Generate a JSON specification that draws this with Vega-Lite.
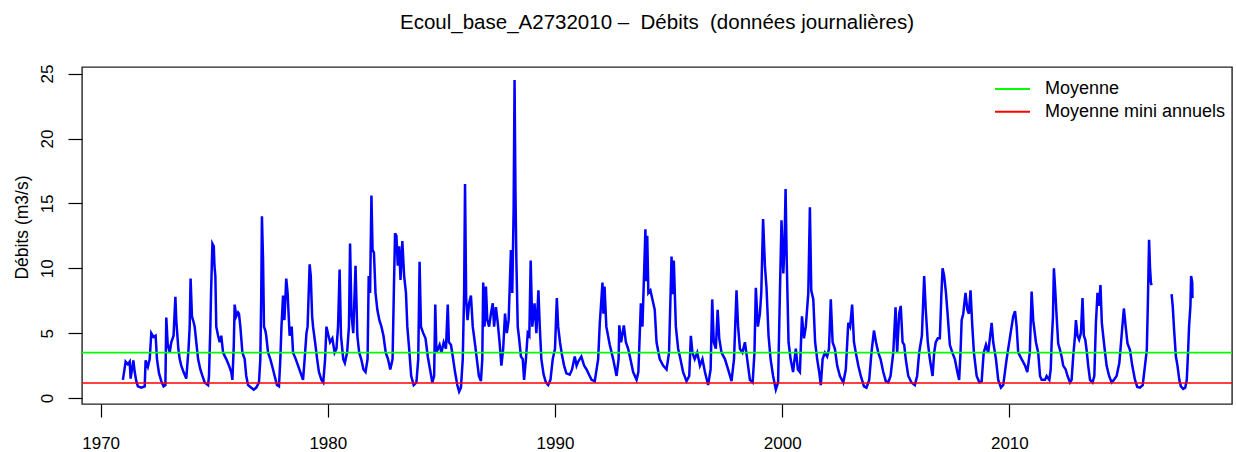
{
"$schema": "https://vega.github.io/schema/vega-lite/v6.json",
"width": 1150, "height": 337,
"autosize": {"type": "none"},
"padding": {"left": 82, "top": 67, "right": 4, "bottom": 48},
"background": "white",
"title": {"text": "Ecoul_base_A2732010 –\u00a0 Débits\u00a0 (données journalières)", "font": "Liberation Sans", "fontSize": 20.5, "fontWeight": "normal", "color": "#000", "anchor": "middle", "frame": "group", "baseline": "alphabetic", "offset": 14.5},
"config": {
  "view": {"stroke": "#222", "strokeWidth": 1.4},
  "axis": {"grid": false, "domain": false, "tickColor": "#000", "tickWidth": 1.2, "labelFont": "Liberation Sans", "labelFontSize": 17, "labelColor": "#000", "titleFont": "Liberation Sans", "titleFontSize": 17.5, "titleFontWeight": "normal", "titleColor": "#000"}
},
"layer": [
{
"data": {"values": [
{"t":1970.98,"q":1.4,"s":1},{"t":1971.10,"q":2.8,"s":1},{"t":1971.20,"q":2.6,"s":1},{"t":1971.28,"q":2.8,"s":1},{"t":1971.32,"q":1.5,"s":1},{"t":1971.44,"q":2.9,"s":1},{"t":1971.50,"q":2.0,"s":1},{"t":1971.57,"q":1.3,"s":1},{"t":1971.64,"q":0.9,"s":1},{"t":1971.79,"q":0.8,"s":1},{"t":1971.94,"q":0.9,"s":1},{"t":1971.98,"q":2.9,"s":1},{"t":1972.08,"q":2.4,"s":1},{"t":1972.16,"q":3.0,"s":1},{"t":1972.23,"q":5.0,"s":1},{"t":1972.33,"q":4.7,"s":1},{"t":1972.42,"q":4.8,"s":1},{"t":1972.48,"q":3.0,"s":1},{"t":1972.57,"q":1.9,"s":1},{"t":1972.67,"q":1.3,"s":1},{"t":1972.77,"q":0.9,"s":1},{"t":1972.85,"q":1.0,"s":1},{"t":1972.89,"q":6.2,"s":1},{"t":1972.95,"q":4.2,"s":1},{"t":1973.04,"q":3.5,"s":1},{"t":1973.11,"q":4.3,"s":1},{"t":1973.21,"q":4.8,"s":1},{"t":1973.29,"q":7.8,"s":1},{"t":1973.33,"q":6.0,"s":1},{"t":1973.42,"q":3.8,"s":1},{"t":1973.48,"q":3.0,"s":1},{"t":1973.55,"q":2.5,"s":1},{"t":1973.65,"q":2.0,"s":1},{"t":1973.77,"q":1.5,"s":1},{"t":1973.87,"q":3.8,"s":1},{"t":1973.92,"q":5.5,"s":1},{"t":1973.96,"q":9.2,"s":1},{"t":1974.02,"q":6.3,"s":1},{"t":1974.10,"q":5.8,"s":1},{"t":1974.14,"q":5.5,"s":1},{"t":1974.21,"q":4.3,"s":1},{"t":1974.29,"q":3.0,"s":1},{"t":1974.39,"q":2.2,"s":1},{"t":1974.48,"q":1.7,"s":1},{"t":1974.58,"q":1.2,"s":1},{"t":1974.73,"q":1.0,"s":1},{"t":1974.77,"q":1.7,"s":1},{"t":1974.83,"q":5.5,"s":1},{"t":1974.86,"q":8.1,"s":1},{"t":1974.92,"q":11.9,"s":1},{"t":1974.98,"q":11.7,"s":1},{"t":1975.01,"q":10.2,"s":1},{"t":1975.05,"q":9.4,"s":1},{"t":1975.09,"q":5.5,"s":1},{"t":1975.17,"q":4.8,"s":1},{"t":1975.24,"q":4.3,"s":1},{"t":1975.31,"q":4.8,"s":1},{"t":1975.39,"q":3.5,"s":1},{"t":1975.53,"q":3.0,"s":1},{"t":1975.65,"q":2.5,"s":1},{"t":1975.75,"q":2.0,"s":1},{"t":1975.80,"q":1.4,"s":1},{"t":1975.86,"q":4.0,"s":1},{"t":1975.90,"q":7.2,"s":1},{"t":1975.97,"q":6.3,"s":1},{"t":1976.05,"q":6.6,"s":1},{"t":1976.09,"q":6.5,"s":1},{"t":1976.15,"q":5.5,"s":1},{"t":1976.24,"q":3.5,"s":1},{"t":1976.34,"q":3.0,"s":1},{"t":1976.41,"q":1.7,"s":1},{"t":1976.49,"q":1.0,"s":1},{"t":1976.63,"q":0.8,"s":1},{"t":1976.74,"q":0.65,"s":1},{"t":1976.85,"q":0.8,"s":1},{"t":1976.97,"q":1.2,"s":1},{"t":1977.03,"q":3.0,"s":1},{"t":1977.07,"q":8.0,"s":1},{"t":1977.10,"q":14.0,"s":1},{"t":1977.15,"q":10.6,"s":1},{"t":1977.19,"q":5.5,"s":1},{"t":1977.25,"q":5.2,"s":1},{"t":1977.29,"q":4.8,"s":1},{"t":1977.37,"q":3.5,"s":1},{"t":1977.47,"q":3.0,"s":1},{"t":1977.59,"q":2.2,"s":1},{"t":1977.66,"q":1.7,"s":1},{"t":1977.76,"q":1.0,"s":1},{"t":1977.85,"q":0.9,"s":1},{"t":1977.91,"q":3.0,"s":1},{"t":1977.96,"q":5.5,"s":1},{"t":1978.03,"q":7.9,"s":1},{"t":1978.09,"q":6.0,"s":1},{"t":1978.17,"q":9.2,"s":1},{"t":1978.23,"q":8.1,"s":1},{"t":1978.32,"q":4.8,"s":1},{"t":1978.41,"q":5.5,"s":1},{"t":1978.47,"q":3.5,"s":1},{"t":1978.59,"q":3.0,"s":1},{"t":1978.69,"q":2.5,"s":1},{"t":1978.79,"q":2.0,"s":1},{"t":1978.91,"q":1.4,"s":1},{"t":1978.98,"q":3.0,"s":1},{"t":1979.06,"q":5.0,"s":1},{"t":1979.11,"q":5.5,"s":1},{"t":1979.20,"q":10.3,"s":1},{"t":1979.25,"q":9.4,"s":1},{"t":1979.31,"q":6.3,"s":1},{"t":1979.35,"q":5.5,"s":1},{"t":1979.44,"q":4.3,"s":1},{"t":1979.53,"q":3.0,"s":1},{"t":1979.61,"q":2.0,"s":1},{"t":1979.72,"q":1.4,"s":1},{"t":1979.80,"q":1.2,"s":1},{"t":1979.88,"q":3.0,"s":1},{"t":1979.94,"q":5.5,"s":1},
{"t":1980.03,"q":4.8,"s":1},{"t":1980.10,"q":4.3,"s":1},{"t":1980.20,"q":4.6,"s":1},{"t":1980.30,"q":3.5,"s":1},{"t":1980.38,"q":3.8,"s":1},{"t":1980.45,"q":5.5,"s":1},{"t":1980.52,"q":9.9,"s":1},{"t":1980.58,"q":4.8,"s":1},{"t":1980.68,"q":3.0,"s":1},{"t":1980.75,"q":2.7,"s":1},{"t":1980.85,"q":3.5,"s":1},{"t":1980.93,"q":5.5,"s":1},{"t":1980.98,"q":11.9,"s":1},{"t":1981.04,"q":6.5,"s":1},{"t":1981.12,"q":5.0,"s":1},{"t":1981.22,"q":10.2,"s":1},{"t":1981.30,"q":4.8,"s":1},{"t":1981.38,"q":3.5,"s":1},{"t":1981.47,"q":3.0,"s":1},{"t":1981.57,"q":2.2,"s":1},{"t":1981.66,"q":2.0,"s":1},{"t":1981.75,"q":3.0,"s":1},{"t":1981.80,"q":9.4,"s":1},{"t":1981.86,"q":8.1,"s":1},{"t":1981.92,"q":15.6,"s":1},{"t":1981.97,"q":11.4,"s":1},{"t":1982.03,"q":11.2,"s":1},{"t":1982.10,"q":8.1,"s":1},{"t":1982.18,"q":6.8,"s":1},{"t":1982.27,"q":6.0,"s":1},{"t":1982.36,"q":5.5,"s":1},{"t":1982.45,"q":4.8,"s":1},{"t":1982.55,"q":3.5,"s":1},{"t":1982.65,"q":3.0,"s":1},{"t":1982.75,"q":2.2,"s":1},{"t":1982.85,"q":3.0,"s":1},{"t":1982.92,"q":9.4,"s":1},{"t":1982.96,"q":12.7,"s":1},{"t":1983.02,"q":12.5,"s":1},{"t":1983.08,"q":10.2,"s":1},{"t":1983.14,"q":11.7,"s":1},{"t":1983.20,"q":9.1,"s":1},{"t":1983.28,"q":12.1,"s":1},{"t":1983.36,"q":9.4,"s":1},{"t":1983.44,"q":8.1,"s":1},{"t":1983.50,"q":5.5,"s":1},{"t":1983.58,"q":3.8,"s":1},{"t":1983.67,"q":1.7,"s":1},{"t":1983.78,"q":1.0,"s":1},{"t":1983.90,"q":1.2,"s":1},{"t":1983.98,"q":3.0,"s":1},{"t":1984.04,"q":10.5,"s":1},{"t":1984.10,"q":5.5,"s":1},{"t":1984.20,"q":5.0,"s":1},{"t":1984.30,"q":4.6,"s":1},{"t":1984.40,"q":3.2,"s":1},{"t":1984.50,"q":2.2,"s":1},{"t":1984.60,"q":1.2,"s":1},{"t":1984.68,"q":1.7,"s":1},{"t":1984.73,"q":7.2,"s":1},{"t":1984.78,"q":3.5,"s":1},{"t":1984.85,"q":3.8,"s":1},{"t":1984.92,"q":4.1,"s":1},{"t":1985.00,"q":3.5,"s":1},{"t":1985.10,"q":4.3,"s":1},{"t":1985.20,"q":3.8,"s":1},{"t":1985.28,"q":7.2,"s":1},{"t":1985.33,"q":4.3,"s":1},{"t":1985.42,"q":4.1,"s":1},{"t":1985.50,"q":3.2,"s":1},{"t":1985.60,"q":2.0,"s":1},{"t":1985.70,"q":1.0,"s":1},{"t":1985.78,"q":0.5,"s":1},{"t":1985.86,"q":0.8,"s":1},{"t":1985.94,"q":3.0,"s":1},{"t":1986.00,"q":8.1,"s":1},{"t":1986.04,"q":16.5,"s":1},{"t":1986.09,"q":7.6,"s":1},{"t":1986.15,"q":6.0,"s":1},{"t":1986.22,"q":7.3,"s":1},{"t":1986.30,"q":7.9,"s":1},{"t":1986.38,"q":5.5,"s":1},{"t":1986.47,"q":4.3,"s":1},{"t":1986.56,"q":3.0,"s":1},{"t":1986.65,"q":1.7,"s":1},{"t":1986.74,"q":1.3,"s":1},{"t":1986.80,"q":3.0,"s":1},{"t":1986.84,"q":8.9,"s":1},{"t":1986.90,"q":5.5,"s":1},{"t":1986.96,"q":8.6,"s":1},{"t":1987.02,"q":6.0,"s":1},{"t":1987.10,"q":5.5,"s":1},{"t":1987.18,"q":6.5,"s":1},{"t":1987.26,"q":7.3,"s":1},{"t":1987.32,"q":5.5,"s":1},{"t":1987.40,"q":7.0,"s":1},{"t":1987.48,"q":5.8,"s":1},{"t":1987.56,"q":4.3,"s":1},{"t":1987.64,"q":2.5,"s":1},{"t":1987.72,"q":3.8,"s":1},{"t":1987.80,"q":6.5,"s":1},{"t":1987.88,"q":5.0,"s":1},{"t":1987.96,"q":6.0,"s":1},{"t":1988.06,"q":11.4,"s":1},{"t":1988.12,"q":8.1,"s":1},{"t":1988.18,"q":14.6,"s":1},{"t":1988.22,"q":24.5,"s":1},{"t":1988.26,"q":15.8,"s":1},{"t":1988.30,"q":10.6,"s":1},{"t":1988.36,"q":5.5,"s":1},{"t":1988.42,"q":4.6,"s":1},{"t":1988.50,"q":3.2,"s":1},{"t":1988.58,"q":3.0,"s":1},{"t":1988.64,"q":1.4,"s":1},{"t":1988.72,"q":3.0,"s":1},{"t":1988.80,"q":5.0,"s":1},{"t":1988.87,"q":4.8,"s":1},{"t":1988.93,"q":10.6,"s":1},{"t":1989.00,"q":5.5,"s":1},{"t":1989.10,"q":7.3,"s":1},{"t":1989.18,"q":5.0,"s":1},{"t":1989.27,"q":8.3,"s":1},{"t":1989.33,"q":5.5,"s":1},{"t":1989.40,"q":3.0,"s":1},{"t":1989.50,"q":1.8,"s":1},{"t":1989.60,"q":1.2,"s":1},{"t":1989.70,"q":1.0,"s":1},{"t":1989.80,"q":1.4,"s":1},{"t":1989.90,"q":3.0,"s":1},{"t":1990.00,"q":3.8,"s":1},{"t":1990.08,"q":7.7,"s":1},{"t":1990.14,"q":5.5,"s":1},{"t":1990.22,"q":4.3,"s":1},{"t":1990.30,"q":3.4,"s":1},{"t":1990.40,"q":2.5,"s":1},{"t":1990.50,"q":1.9,"s":1},
{"t":1990.65,"q":1.8,"s":1},{"t":1990.75,"q":2.2,"s":1},{"t":1990.87,"q":3.2,"s":1},{"t":1990.95,"q":2.5,"s":1},{"t":1991.02,"q":2.8,"s":1},{"t":1991.16,"q":3.2,"s":1},{"t":1991.28,"q":2.5,"s":1},{"t":1991.39,"q":2.2,"s":1},{"t":1991.50,"q":1.8,"s":1},{"t":1991.61,"q":1.4,"s":1},{"t":1991.75,"q":1.3,"s":1},{"t":1991.90,"q":3.0,"s":1},{"t":1991.97,"q":5.7,"s":1},{"t":1992.09,"q":8.9,"s":1},{"t":1992.13,"q":6.5,"s":1},{"t":1992.18,"q":8.6,"s":1},{"t":1992.26,"q":5.5,"s":1},{"t":1992.41,"q":4.1,"s":1},{"t":1992.56,"q":3.0,"s":1},{"t":1992.71,"q":1.7,"s":1},{"t":1992.80,"q":3.0,"s":1},{"t":1992.83,"q":5.6,"s":1},{"t":1992.91,"q":4.3,"s":1},{"t":1993.03,"q":5.6,"s":1},{"t":1993.12,"q":4.3,"s":1},{"t":1993.22,"q":3.8,"s":1},{"t":1993.32,"q":3.0,"s":1},{"t":1993.44,"q":2.0,"s":1},{"t":1993.59,"q":1.4,"s":1},{"t":1993.67,"q":2.0,"s":1},{"t":1993.78,"q":7.3,"s":1},{"t":1993.85,"q":5.5,"s":1},{"t":1993.98,"q":13.0,"s":1},{"t":1994.02,"q":9.0,"s":1},{"t":1994.06,"q":12.5,"s":1},{"t":1994.11,"q":8.1,"s":1},{"t":1994.20,"q":8.3,"s":1},{"t":1994.29,"q":7.6,"s":1},{"t":1994.39,"q":6.8,"s":1},{"t":1994.47,"q":4.3,"s":1},{"t":1994.61,"q":3.0,"s":1},{"t":1994.76,"q":2.5,"s":1},{"t":1994.91,"q":2.2,"s":1},{"t":1995.02,"q":3.5,"s":1},{"t":1995.13,"q":10.9,"s":1},{"t":1995.18,"q":8.0,"s":1},{"t":1995.23,"q":10.6,"s":1},{"t":1995.32,"q":5.5,"s":1},{"t":1995.42,"q":3.8,"s":1},{"t":1995.52,"q":3.0,"s":1},{"t":1995.64,"q":2.0,"s":1},{"t":1995.79,"q":1.3,"s":1},{"t":1995.91,"q":1.7,"s":1},{"t":1995.98,"q":4.8,"s":1},{"t":1996.05,"q":3.5,"s":1},{"t":1996.15,"q":3.0,"s":1},{"t":1996.26,"q":3.5,"s":1},{"t":1996.38,"q":2.5,"s":1},{"t":1996.49,"q":3.0,"s":1},{"t":1996.60,"q":2.0,"s":1},{"t":1996.74,"q":1.0,"s":1},{"t":1996.85,"q":2.2,"s":1},{"t":1996.92,"q":7.6,"s":1},{"t":1996.99,"q":4.3,"s":1},{"t":1997.08,"q":3.8,"s":1},{"t":1997.16,"q":6.8,"s":1},{"t":1997.23,"q":4.6,"s":1},{"t":1997.33,"q":3.5,"s":1},{"t":1997.48,"q":3.0,"s":1},{"t":1997.62,"q":2.2,"s":1},{"t":1997.77,"q":1.3,"s":1},{"t":1997.88,"q":3.0,"s":1},{"t":1997.99,"q":8.3,"s":1},{"t":1998.06,"q":5.5,"s":1},{"t":1998.14,"q":3.8,"s":1},{"t":1998.25,"q":3.5,"s":1},{"t":1998.36,"q":4.3,"s":1},{"t":1998.46,"q":3.0,"s":1},{"t":1998.58,"q":1.4,"s":1},{"t":1998.70,"q":1.2,"s":1},{"t":1998.78,"q":3.5,"s":1},{"t":1998.84,"q":8.5,"s":1},{"t":1998.93,"q":5.5,"s":1},{"t":1999.02,"q":6.5,"s":1},{"t":1999.08,"q":8.1,"s":1},{"t":1999.16,"q":13.8,"s":1},{"t":1999.24,"q":10.2,"s":1},{"t":1999.31,"q":8.5,"s":1},{"t":1999.40,"q":4.8,"s":1},{"t":1999.49,"q":3.0,"s":1},{"t":1999.60,"q":1.7,"s":1},{"t":1999.72,"q":0.65,"s":1},{"t":1999.82,"q":1.2,"s":1},{"t":1999.90,"q":8.1,"s":1},{"t":1999.97,"q":13.7,"s":1},{"t":2000.05,"q":9.6,"s":1},{"t":2000.10,"q":11.7,"s":1},{"t":2000.15,"q":16.1,"s":1},{"t":2000.20,"q":10.6,"s":1},{"t":2000.28,"q":4.3,"s":1},{"t":2000.37,"q":3.0,"s":1},{"t":2000.48,"q":2.0,"s":1},{"t":2000.60,"q":3.8,"s":1},{"t":2000.69,"q":2.2,"s":1},{"t":2000.78,"q":2.0,"s":1},{"t":2000.87,"q":6.3,"s":1},{"t":2000.96,"q":4.6,"s":1},{"t":2001.04,"q":5.5,"s":1},
{"t":2001.15,"q":8.1,"s":1},{"t":2001.22,"q":14.7,"s":1},{"t":2001.28,"q":8.3,"s":1},{"t":2001.37,"q":7.6,"s":1},{"t":2001.45,"q":4.3,"s":1},{"t":2001.54,"q":3.0,"s":1},{"t":2001.63,"q":2.0,"s":1},{"t":2001.70,"q":1.0,"s":1},{"t":2001.78,"q":3.0,"s":1},{"t":2001.88,"q":3.5,"s":1},{"t":2001.98,"q":3.2,"s":1},{"t":2002.06,"q":3.8,"s":1},{"t":2002.14,"q":7.6,"s":1},{"t":2002.22,"q":4.3,"s":1},{"t":2002.32,"q":3.8,"s":1},{"t":2002.42,"q":2.5,"s":1},{"t":2002.54,"q":1.7,"s":1},{"t":2002.69,"q":1.2,"s":1},{"t":2002.80,"q":2.2,"s":1},{"t":2002.91,"q":5.8,"s":1},{"t":2002.99,"q":5.5,"s":1},{"t":2003.08,"q":7.2,"s":1},{"t":2003.16,"q":4.3,"s":1},{"t":2003.24,"q":3.5,"s":1},{"t":2003.35,"q":2.5,"s":1},{"t":2003.46,"q":1.7,"s":1},{"t":2003.60,"q":0.9,"s":1},{"t":2003.71,"q":0.8,"s":1},{"t":2003.83,"q":1.4,"s":1},{"t":2003.93,"q":3.5,"s":1},{"t":2004.04,"q":5.2,"s":1},{"t":2004.13,"q":4.3,"s":1},{"t":2004.23,"q":3.5,"s":1},{"t":2004.33,"q":3.0,"s":1},{"t":2004.45,"q":2.0,"s":1},{"t":2004.56,"q":1.3,"s":1},{"t":2004.67,"q":1.2,"s":1},{"t":2004.77,"q":1.7,"s":1},{"t":2004.89,"q":3.5,"s":1},{"t":2004.99,"q":7.0,"s":1},{"t":2005.06,"q":3.5,"s":1},{"t":2005.15,"q":6.5,"s":1},{"t":2005.22,"q":7.1,"s":1},{"t":2005.30,"q":4.3,"s":1},{"t":2005.37,"q":4.1,"s":1},{"t":2005.44,"q":3.0,"s":1},{"t":2005.55,"q":1.7,"s":1},{"t":2005.69,"q":1.2,"s":1},{"t":2005.84,"q":1.0,"s":1},{"t":2005.94,"q":1.7,"s":1},{"t":2006.03,"q":3.5,"s":1},{"t":2006.15,"q":4.8,"s":1},{"t":2006.25,"q":9.4,"s":1},{"t":2006.32,"q":6.8,"s":1},{"t":2006.41,"q":4.3,"s":1},{"t":2006.50,"q":3.0,"s":1},{"t":2006.62,"q":1.7,"s":1},{"t":2006.69,"q":3.5,"s":1},{"t":2006.76,"q":4.3,"s":1},{"t":2006.85,"q":4.6,"s":1},{"t":2006.94,"q":4.6,"s":1},{"t":2007.01,"q":8.1,"s":1},{"t":2007.06,"q":10.0,"s":1},{"t":2007.13,"q":9.4,"s":1},{"t":2007.21,"q":8.1,"s":1},{"t":2007.28,"q":6.5,"s":1},{"t":2007.38,"q":4.1,"s":1},{"t":2007.49,"q":3.5,"s":1},{"t":2007.60,"q":3.0,"s":1},{"t":2007.71,"q":2.0,"s":1},{"t":2007.79,"q":1.4,"s":1},{"t":2007.85,"q":3.5,"s":1},{"t":2007.90,"q":6.0,"s":1},{"t":2007.97,"q":6.5,"s":1},{"t":2008.07,"q":8.1,"s":1},{"t":2008.15,"q":6.8,"s":1},{"t":2008.22,"q":6.5,"s":1},{"t":2008.29,"q":8.3,"s":1},{"t":2008.37,"q":5.5,"s":1},{"t":2008.44,"q":3.5,"s":1},{"t":2008.56,"q":1.7,"s":1},{"t":2008.68,"q":1.2,"s":1},{"t":2008.78,"q":1.3,"s":1},{"t":2008.87,"q":3.5,"s":1},{"t":2008.97,"q":4.1,"s":1},{"t":2009.07,"q":3.5,"s":1},{"t":2009.22,"q":5.8,"s":1},{"t":2009.29,"q":4.3,"s":1},{"t":2009.41,"q":3.0,"s":1},{"t":2009.51,"q":1.4,"s":1},{"t":2009.63,"q":0.8,"s":1},{"t":2009.73,"q":1.0,"s":1},{"t":2009.88,"q":3.0,"s":1},{"t":2010.02,"q":4.6,"s":1},{"t":2010.17,"q":6.3,"s":1},{"t":2010.25,"q":6.7,"s":1},{"t":2010.32,"q":5.5,"s":1},{"t":2010.39,"q":3.5,"s":1},{"t":2010.54,"q":3.0,"s":1},{"t":2010.69,"q":2.5,"s":1},{"t":2010.79,"q":2.0,"s":1},{"t":2010.90,"q":3.5,"s":1},{"t":2010.98,"q":8.2,"s":1},{"t":2011.05,"q":6.0,"s":1},{"t":2011.17,"q":4.3,"s":1},{"t":2011.27,"q":3.5,"s":1},
{"t":2011.35,"q":1.7,"s":1},{"t":2011.42,"q":1.4,"s":1},{"t":2011.57,"q":1.4,"s":1},{"t":2011.64,"q":1.7,"s":1},{"t":2011.76,"q":1.4,"s":1},{"t":2011.82,"q":2.2,"s":1},{"t":2011.86,"q":4.2,"s":1},{"t":2011.92,"q":6.3,"s":1},{"t":2011.96,"q":10.0,"s":1},{"t":2012.02,"q":8.3,"s":1},{"t":2012.08,"q":6.3,"s":1},{"t":2012.15,"q":4.2,"s":1},{"t":2012.23,"q":3.7,"s":1},{"t":2012.30,"q":3.2,"s":1},{"t":2012.37,"q":2.5,"s":1},{"t":2012.48,"q":2.2,"s":1},{"t":2012.56,"q":1.7,"s":1},{"t":2012.67,"q":1.2,"s":1},{"t":2012.74,"q":1.4,"s":1},{"t":2012.81,"q":3.2,"s":1},{"t":2012.89,"q":4.8,"s":1},{"t":2012.93,"q":6.0,"s":1},{"t":2013.00,"q":4.8,"s":1},{"t":2013.07,"q":4.5,"s":1},{"t":2013.15,"q":5.0,"s":1},{"t":2013.22,"q":7.7,"s":1},{"t":2013.28,"q":4.8,"s":1},{"t":2013.34,"q":4.5,"s":1},{"t":2013.40,"q":3.7,"s":1},{"t":2013.47,"q":2.5,"s":1},{"t":2013.55,"q":1.4,"s":1},{"t":2013.66,"q":1.2,"s":1},{"t":2013.74,"q":1.7,"s":1},{"t":2013.81,"q":5.8,"s":1},{"t":2013.88,"q":8.1,"s":1},{"t":2013.95,"q":7.1,"s":1},{"t":2014.01,"q":8.7,"s":1},{"t":2014.07,"q":5.8,"s":1},{"t":2014.13,"q":4.8,"s":1},{"t":2014.20,"q":3.7,"s":1},{"t":2014.28,"q":2.5,"s":1},{"t":2014.39,"q":1.7,"s":1},{"t":2014.50,"q":1.2,"s":1},{"t":2014.60,"q":1.4,"s":1},{"t":2014.72,"q":1.7,"s":1},{"t":2014.84,"q":2.7,"s":1},{"t":2014.94,"q":4.8,"s":1},{"t":2015.04,"q":6.9,"s":1},{"t":2015.12,"q":5.5,"s":1},{"t":2015.20,"q":4.2,"s":1},{"t":2015.31,"q":3.7,"s":1},{"t":2015.41,"q":2.5,"s":1},{"t":2015.53,"q":1.4,"s":1},{"t":2015.63,"q":0.85,"s":1},{"t":2015.75,"q":0.8,"s":1},{"t":2015.87,"q":1.0,"s":1},{"t":2015.97,"q":2.5,"s":1},{"t":2016.05,"q":3.7,"s":1},{"t":2016.10,"q":7.6,"s":1},{"t":2016.15,"q":12.2,"s":1},{"t":2016.19,"q":10.1,"s":1},{"t":2016.23,"q":8.9,"s":1},{"t":2016.26,"q":8.7,"s":1},
{"t":2017.14,"q":8.0,"s":2},{"t":2017.19,"q":7.1,"s":2},{"t":2017.25,"q":5.3,"s":2},{"t":2017.33,"q":3.2,"s":2},{"t":2017.40,"q":2.5,"s":2},{"t":2017.48,"q":1.4,"s":2},{"t":2017.55,"q":0.9,"s":2},{"t":2017.65,"q":0.7,"s":2},{"t":2017.74,"q":0.8,"s":2},{"t":2017.81,"q":1.4,"s":2},{"t":2017.87,"q":3.7,"s":2},{"t":2017.91,"q":5.5,"s":2},{"t":2017.97,"q":7.1,"s":2},{"t":2018.00,"q":9.4,"s":2},{"t":2018.05,"q":8.9,"s":2},{"t":2018.06,"q":7.7,"s":2}
]},
"mark": {"type": "line", "color": "#0000FF", "strokeWidth": 2.5},
"encoding": {
  "x": {"field": "t", "type": "quantitative", "scale": {"domain": [1969.18, 2019.8], "nice": false, "zero": false},
        "axis": {"values": [1970, 1980, 1990, 2000, 2010], "format": "d", "title": null, "tickSize": 13, "labelPadding": 31, "labelBaseline": "alphabetic", "labelAlign": "center", "labelFlush": false, "labelOverlap": false}},
  "y": {"field": "q", "type": "quantitative", "scale": {"domain": [-0.46, 25.51], "nice": false, "zero": false},
        "axis": {"values": [0, 5, 10, 15, 20, 25], "title": "Débits (m3/s)", "tickSize": 14, "labelPadding": 16, "labelAngle": 270, "labelAlign": "center", "labelBaseline": "alphabetic", "labelFlush": false, "labelOverlap": false, "titleX": -55, "titleY": 160, "titleAngle": 270, "titleAlign": "center", "titleBaseline": "alphabetic"}},
  "detail": {"field": "s", "type": "nominal"}
}
},
{
"data": {"values": [{"name": "Moyenne", "v": 3.5}, {"name": "Moyenne mini annuels", "v": 1.16}]},
"mark": {"type": "rule", "strokeWidth": 1.7},
"encoding": {
  "y": {"field": "v", "type": "quantitative", "scale": {"domain": [-0.46, 25.51], "nice": false, "zero": false},
        "axis": {"values": [0, 5, 10, 15, 20, 25], "title": "Débits (m3/s)", "tickSize": 14, "labelPadding": 16, "labelAngle": 270, "labelAlign": "center", "labelBaseline": "alphabetic", "labelFlush": false, "labelOverlap": false, "titleX": -55, "titleY": 160, "titleAngle": 270, "titleAlign": "center", "titleBaseline": "alphabetic"}},
  "color": {"field": "name", "type": "nominal",
    "scale": {"domain": ["Moyenne", "Moyenne mini annuels"], "range": ["#00FF00", "#FF0000"]},
    "legend": {"title": null, "orient": "none", "legendX": 921.5, "legendY": 13, "padding": 0, "symbolType": "M-3.5,0H3.5", "symbolSize": 100, "symbolStrokeWidth": 2, "labelFont": "Liberation Sans", "labelFontSize": 18, "labelColor": "#000", "labelOffset": 23.5, "labelLimit": 400, "rowPadding": 4.7}}
}
}
]
}
